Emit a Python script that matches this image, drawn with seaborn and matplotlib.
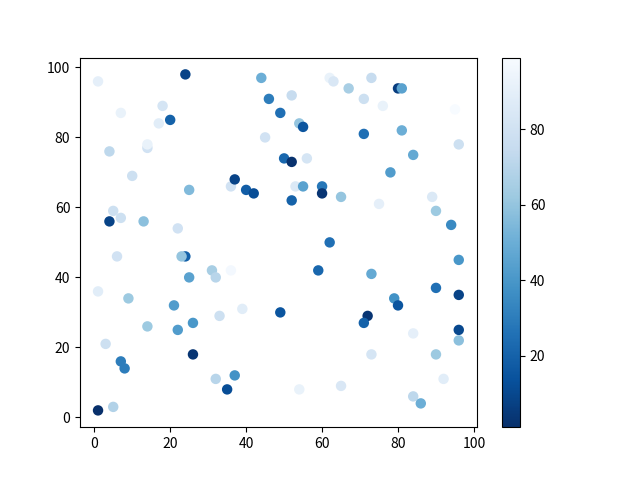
import matplotlib
matplotlib.use("Agg")
import matplotlib.pyplot as plt
import seaborn as sns
import pandas as pd
from matplotlib.cm import ScalarMappable
from matplotlib.colors import Normalize

plt.rcParams['font.family'] = ['Noto Sans CJK SC', 'DejaVu Sans']

x_vals = [1, 24, 44, 46, 49, 7, 18, 17, 20, 45, 4, 14, 14, 10, 36, 37, 40, 42, 25, 5,
          4, 7, 13, 22, 62, 63, 73, 67, 71, 76, 80, 81, 95, 52, 54, 55, 71, 81, 96, 84,
          50, 52, 56, 78, 53, 55, 60, 60, 65, 52, 75, 89, 90, 94, 62, 6, 24, 23, 31, 32,
          36, 25, 1, 9, 21, 39, 33, 26, 22, 14, 3, 26, 7, 8, 32, 37, 35, 1, 5, 49,
          59, 73, 96, 90, 96, 79, 80, 72, 71, 96, 96, 84, 73, 90, 92, 54, 65, 84, 86]
y_vals = [96, 98, 97, 91, 87, 87, 89, 84, 85, 80, 76, 77, 78, 69, 66, 68, 65, 64, 65, 59,
          56, 57, 56, 54, 97, 96, 97, 94, 91, 89, 94, 94, 88, 92, 84, 83, 81, 82, 78, 75,
          74, 73, 74, 70, 66, 66, 66, 64, 63, 62, 61, 63, 59, 55, 50, 46, 46, 46, 42, 40,
          42, 40, 36, 34, 32, 31, 29, 27, 25, 26, 21, 18, 16, 14, 11, 12, 8, 2, 3, 30,
          42, 41, 45, 37, 35, 34, 32, 29, 27, 25, 22, 24, 18, 18, 11, 8, 9, 6, 4]
c_vals = [90, 8, 50, 30, 25, 92, 82, 88, 20, 80, 72, 80, 92, 78, 80, 8, 18, 12, 55, 78,
          8, 78, 58, 80, 92, 84, 75, 65, 78, 92, 6, 45, 99, 75, 60, 15, 25, 50, 78, 48,
          22, 2, 82, 42, 85, 45, 28, 3, 60, 20, 90, 85, 62, 35, 25, 80, 20, 60, 65, 70,
          97, 45, 88, 62, 42, 88, 78, 40, 42, 62, 78, 3, 30, 30, 70, 38, 12, 1, 68, 15,
          22, 48, 40, 25, 8, 38, 15, 3, 20, 10, 58, 90, 82, 62, 88, 92, 84, 72, 50]

df = pd.DataFrame({"x": x_vals, "y": y_vals, "c": c_vals})
vmin, vmax = min(c_vals), max(c_vals)

fig, ax = plt.subplots(figsize=(6.4, 4.8), dpi=100)
sns.scatterplot(data=df, x="x", y="y", hue="c", palette="Blues_r",
                hue_norm=(vmin, vmax), legend=False, s=36,
                edgecolor="face", linewidth=1.5, ax=ax)
ax.set_xlabel("")
ax.set_ylabel("")
ax.set_xticks([0, 20, 40, 60, 80, 100])
ax.set_yticks([0, 20, 40, 60, 80, 100])

sm = ScalarMappable(norm=Normalize(vmin, vmax), cmap="Blues_r")
sm.set_array([])
cbar = fig.colorbar(sm, ax=ax)
cbar.set_ticks([20, 40, 60, 80])

fig.savefig("out.png", dpi=100)
